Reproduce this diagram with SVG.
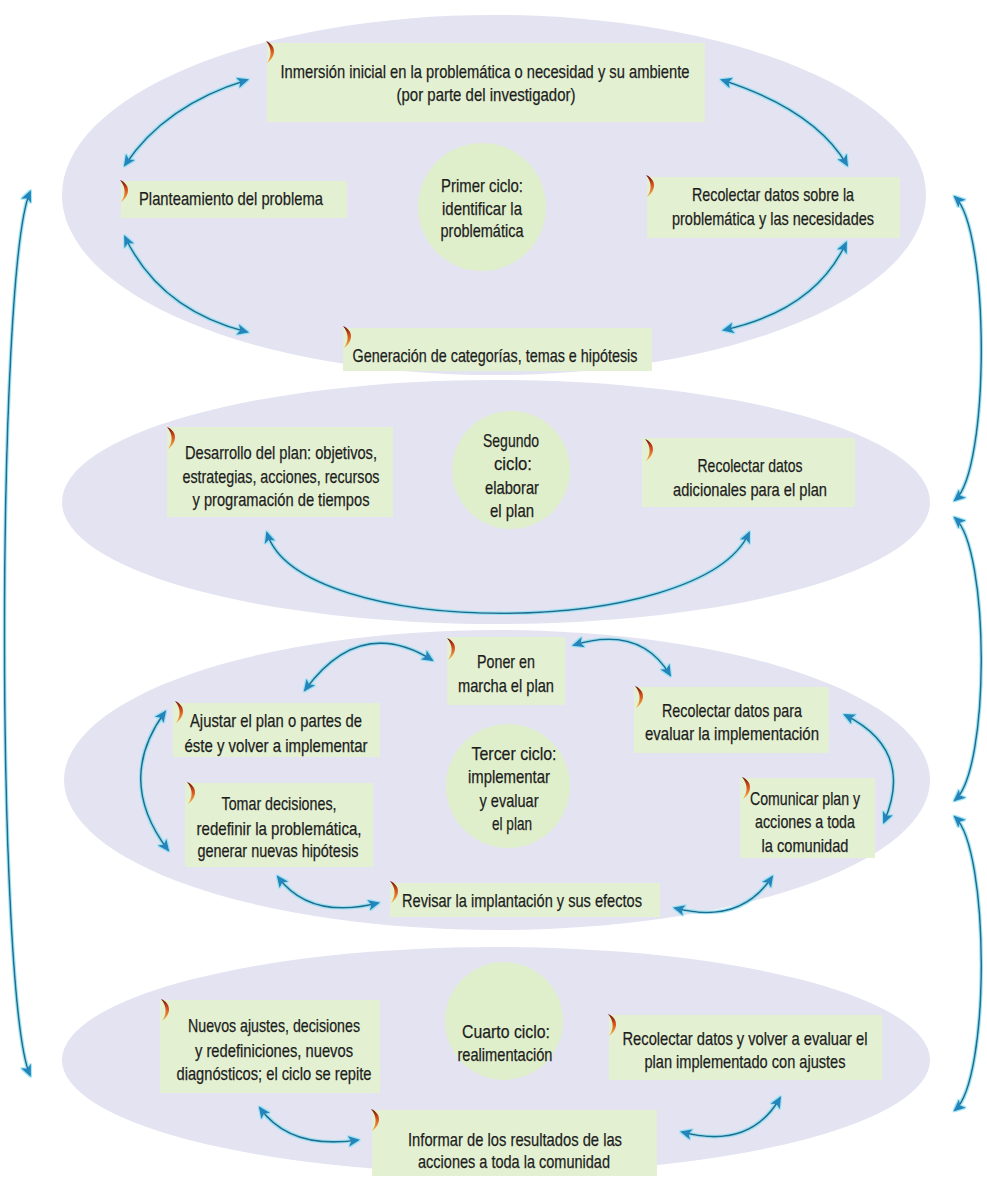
<svg xmlns="http://www.w3.org/2000/svg" xmlns:xlink="http://www.w3.org/1999/xlink" width="987" height="1179" viewBox="0 0 987 1179">
  <style>
    .cycle { fill: #e3e3f2; }
    .box { fill: #e3f0d1; }
    .hub { fill: #e0efcb; }
    .t { font-family: "Liberation Sans Narrow", "Liberation Sans", Arial, sans-serif; font-size: 19px; fill: #1d1d1d; stroke: #1d1d1d; stroke-width: 0.25; text-anchor: middle; }
    .ln { fill: none; stroke: #1f6d92; stroke-width: 1.6; marker-start: url(#head); marker-end: url(#head); }
  </style>
  <defs>
    <linearGradient id="tickGrad" x1="0" y1="0" x2="0" y2="1">
      <stop offset="0" stop-color="#6e1006"/>
      <stop offset="0.4" stop-color="#d24a17"/>
      <stop offset="1" stop-color="#f6b84a"/>
    </linearGradient>
    <!-- small orange crescent that marks each step -->
    <symbol id="tick" viewBox="0 0 12 22" width="12" height="22">
      <path d="M1 0 C11 4 12 15 2 22 C7 15 7 7 1 0 Z" fill="url(#tickGrad)"/>
    </symbol>
    <marker id="head" viewBox="0 0 12 12" refX="9" refY="6" markerWidth="13" markerHeight="13" markerUnits="userSpaceOnUse" orient="auto-start-reverse">
      <path d="M0 1 L11 6 L0 11 L2.5 6 Z" fill="#2485bb"/>
    </marker>
    <filter id="glow" filterUnits="userSpaceOnUse" x="0" y="0" width="987" height="1179">
      <feMorphology in="SourceAlpha" operator="dilate" radius="1" result="thick"/>
      <feFlood flood-color="#8fe1f2" flood-opacity="0.85"/>
      <feComposite in2="thick" operator="in" result="halo"/>
      <feMerge>
        <feMergeNode in="halo"/>
        <feMergeNode in="SourceGraphic"/>
      </feMerge>
    </filter>
  </defs>

  <rect width="987" height="1179" fill="#ffffff"/>

  <!-- the four cycles -->
  <g id="cycles">
    <ellipse id="cycle-1" class="cycle" cx="494" cy="195" rx="432" ry="180"/>
    <ellipse id="cycle-2" class="cycle" cx="496" cy="502" rx="434" ry="122"/>
    <ellipse id="cycle-3" class="cycle" cx="497" cy="780" rx="433" ry="150"/>
    <ellipse id="cycle-4" class="cycle" cx="496" cy="1060" rx="434" ry="113"/>
  </g>

  <!-- first cycle -->
  <g id="inmersion">
    <rect class="box" x="267" y="43" width="438" height="79"/>
    <use href="#tick" x="265" y="41"/>
    <text class="t" x="485" y="78" textLength="409" lengthAdjust="spacingAndGlyphs">Inmersión inicial en la problemática o necesidad y su ambiente</text>
    <text class="t" x="486" y="101" textLength="179" lengthAdjust="spacingAndGlyphs">(por parte del investigador)</text>
  </g>
  <g id="planteamiento">
    <rect class="box" x="121" y="181" width="226" height="37"/>
    <use href="#tick" x="119" y="180"/>
    <text class="t" x="231" y="205" textLength="184" lengthAdjust="spacingAndGlyphs">Planteamiento del problema</text>
  </g>
  <g id="primer-ciclo">
    <circle class="hub" cx="482" cy="207" r="64"/>
    <text class="t" x="482" y="192" textLength="82" lengthAdjust="spacingAndGlyphs">Primer ciclo:</text>
    <text class="t" x="482" y="215" textLength="80" lengthAdjust="spacingAndGlyphs">identificar la</text>
    <text class="t" x="482" y="237" textLength="83" lengthAdjust="spacingAndGlyphs">problemática</text>
  </g>
  <g id="recolectar-necesidades">
    <rect class="box" x="647" y="177" width="253" height="61"/>
    <use href="#tick" x="645" y="175"/>
    <text class="t" x="773" y="201" textLength="162" lengthAdjust="spacingAndGlyphs">Recolectar datos sobre la</text>
    <text class="t" x="773" y="225" textLength="202" lengthAdjust="spacingAndGlyphs">problemática y las necesidades</text>
  </g>
  <g id="generacion">
    <rect class="box" x="343" y="328" width="309" height="43"/>
    <use href="#tick" x="342" y="326"/>
    <text class="t" x="495" y="362" textLength="285" lengthAdjust="spacingAndGlyphs">Generación de categorías, temas e hipótesis</text>
  </g>

  <!-- second cycle -->
  <g id="desarrollo-plan">
    <rect class="box" x="167" y="427" width="226" height="90"/>
    <use href="#tick" x="166" y="427"/>
    <text class="t" x="281" y="459" textLength="192" lengthAdjust="spacingAndGlyphs">Desarrollo del plan: objetivos,</text>
    <text class="t" x="281" y="483" textLength="197" lengthAdjust="spacingAndGlyphs">estrategias, acciones, recursos</text>
    <text class="t" x="281" y="506" textLength="177" lengthAdjust="spacingAndGlyphs">y programación de tiempos</text>
  </g>
  <g id="segundo-ciclo">
    <circle class="hub" cx="511" cy="470" r="59"/>
    <text class="t" x="511" y="447" textLength="56" lengthAdjust="spacingAndGlyphs">Segundo</text>
    <text class="t" x="513" y="470" textLength="38" lengthAdjust="spacingAndGlyphs">ciclo:</text>
    <text class="t" x="512" y="494" textLength="54" lengthAdjust="spacingAndGlyphs">elaborar</text>
    <text class="t" x="512" y="517" textLength="44" lengthAdjust="spacingAndGlyphs">el plan</text>
  </g>
  <g id="recolectar-adicionales">
    <rect class="box" x="642" y="438" width="213" height="69"/>
    <use href="#tick" x="644" y="439"/>
    <text class="t" x="750" y="472" textLength="105" lengthAdjust="spacingAndGlyphs">Recolectar datos</text>
    <text class="t" x="750" y="496" textLength="154" lengthAdjust="spacingAndGlyphs">adicionales para el plan</text>
  </g>

  <!-- third cycle -->
  <g id="poner-en-marcha">
    <rect class="box" x="447" y="637" width="118" height="68"/>
    <use href="#tick" x="446" y="638"/>
    <text class="t" x="506" y="668" textLength="58" lengthAdjust="spacingAndGlyphs">Poner en</text>
    <text class="t" x="506" y="692" textLength="96" lengthAdjust="spacingAndGlyphs">marcha el plan</text>
  </g>
  <g id="ajustar-plan">
    <rect class="box" x="173" y="703" width="207" height="54"/>
    <use href="#tick" x="174" y="701"/>
    <text class="t" x="276" y="727" textLength="172" lengthAdjust="spacingAndGlyphs">Ajustar el plan o partes de</text>
    <text class="t" x="276" y="752" textLength="183" lengthAdjust="spacingAndGlyphs">éste y volver a implementar</text>
  </g>
  <g id="tomar-decisiones">
    <rect class="box" x="185" y="783" width="188" height="84"/>
    <use href="#tick" x="186" y="782"/>
    <text class="t" x="279" y="810" textLength="115" lengthAdjust="spacingAndGlyphs">Tomar decisiones,</text>
    <text class="t" x="279" y="835" textLength="165" lengthAdjust="spacingAndGlyphs">redefinir la problemática,</text>
    <text class="t" x="278" y="857" textLength="161" lengthAdjust="spacingAndGlyphs">generar nuevas hipótesis</text>
  </g>
  <g id="tercer-ciclo">
    <circle class="hub" cx="508" cy="786" r="62"/>
    <text class="t" x="514" y="760" textLength="85" lengthAdjust="spacingAndGlyphs">Tercer ciclo:</text>
    <text class="t" x="509" y="783" textLength="82" lengthAdjust="spacingAndGlyphs">implementar</text>
    <text class="t" x="509" y="807" textLength="59" lengthAdjust="spacingAndGlyphs">y evaluar</text>
    <text class="t" x="512" y="830" textLength="40" lengthAdjust="spacingAndGlyphs">el plan</text>
  </g>
  <g id="recolectar-evaluar">
    <rect class="box" x="634" y="687" width="195" height="66"/>
    <use href="#tick" x="634" y="686"/>
    <text class="t" x="732" y="717" textLength="140" lengthAdjust="spacingAndGlyphs">Recolectar datos para</text>
    <text class="t" x="732" y="740" textLength="174" lengthAdjust="spacingAndGlyphs">evaluar la implementación</text>
  </g>
  <g id="comunicar-plan">
    <rect class="box" x="740" y="778" width="135" height="80"/>
    <use href="#tick" x="741" y="777"/>
    <text class="t" x="805" y="805" textLength="110" lengthAdjust="spacingAndGlyphs">Comunicar plan y</text>
    <text class="t" x="805" y="828" textLength="100" lengthAdjust="spacingAndGlyphs">acciones a toda</text>
    <text class="t" x="805" y="852" textLength="87" lengthAdjust="spacingAndGlyphs">la comunidad</text>
  </g>
  <g id="revisar-implantacion">
    <rect class="box" x="390" y="883" width="270" height="34"/>
    <use href="#tick" x="389" y="881"/>
    <text class="t" x="522" y="907" textLength="240" lengthAdjust="spacingAndGlyphs">Revisar la implantación y sus efectos</text>
  </g>

  <!-- fourth cycle -->
  <g id="nuevos-ajustes">
    <rect class="box" x="160" y="1000" width="220" height="93"/>
    <use href="#tick" x="160" y="999"/>
    <text class="t" x="274" y="1032" textLength="172" lengthAdjust="spacingAndGlyphs">Nuevos ajustes, decisiones</text>
    <text class="t" x="274" y="1057" textLength="158" lengthAdjust="spacingAndGlyphs">y redefiniciones, nuevos</text>
    <text class="t" x="274" y="1080" textLength="195" lengthAdjust="spacingAndGlyphs">diagnósticos; el ciclo se repite</text>
  </g>
  <g id="cuarto-ciclo">
    <circle class="hub" cx="504" cy="1021" r="59"/>
    <text class="t" x="506" y="1038" textLength="88" lengthAdjust="spacingAndGlyphs">Cuarto ciclo:</text>
    <text class="t" x="505" y="1061" textLength="95" lengthAdjust="spacingAndGlyphs">realimentación</text>
  </g>
  <g id="recolectar-volver">
    <rect class="box" x="609" y="1015" width="273" height="65"/>
    <use href="#tick" x="607" y="1014"/>
    <text class="t" x="745" y="1045" textLength="245" lengthAdjust="spacingAndGlyphs">Recolectar datos y volver a evaluar el</text>
    <text class="t" x="745" y="1068" textLength="201" lengthAdjust="spacingAndGlyphs">plan implementado con ajustes</text>
  </g>
  <g id="informar-resultados">
    <rect class="box" x="372" y="1110" width="285" height="66"/>
    <use href="#tick" x="370" y="1109"/>
    <text class="t" x="515" y="1146" textLength="214" lengthAdjust="spacingAndGlyphs">Informar de los resultados de las</text>
    <text class="t" x="514" y="1168" textLength="192" lengthAdjust="spacingAndGlyphs">acciones a toda la comunidad</text>
  </g>

  <!-- two-way connectors -->
  <g id="connectors" filter="url(#glow)">
    <!-- links between the cycles -->
    <path class="ln" d="M30 192 C-4 270 -4 1000 30 1075"/>
    <path class="ln" d="M955 197 C990 230 990 470 955 500"/>
    <path class="ln" d="M955 518 C990 550 990 770 955 800"/>
    <path class="ln" d="M955 817 C990 850 990 1080 955 1110"/>
    <!-- first cycle -->
    <path class="ln" d="M247 80 Q165 105 125 165"/>
    <path class="ln" d="M125 237 Q160 310 247 332"/>
    <path class="ln" d="M722 80 Q815 110 847 165"/>
    <path class="ln" d="M846 243 Q815 310 724 330"/>
    <!-- second cycle -->
    <path class="ln" d="M267 533 C300 640 700 640 749 533"/>
    <!-- third cycle -->
    <path class="ln" d="M305 690 Q360 615 432 660"/>
    <path class="ln" d="M574 645 Q640 625 670 675"/>
    <path class="ln" d="M845 715 Q915 750 884 822"/>
    <path class="ln" d="M772 877 Q740 925 675 908"/>
    <path class="ln" d="M165 712 Q115 780 168 850"/>
    <path class="ln" d="M278 877 Q310 920 378 903"/>
    <!-- fourth cycle -->
    <path class="ln" d="M260 1108 Q290 1150 358 1140"/>
    <path class="ln" d="M780 1098 Q750 1150 682 1132"/>
  </g>
</svg>
